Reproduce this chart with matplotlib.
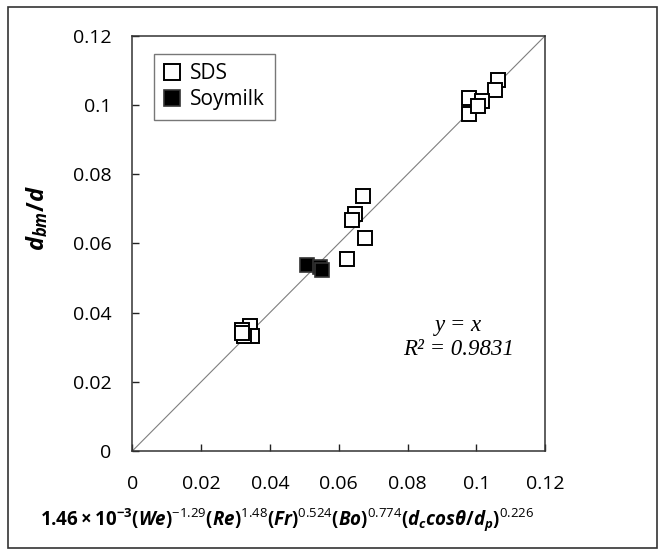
import matplotlib
matplotlib.use("Agg")
import matplotlib.pyplot as plt
from matplotlib.patches import Rectangle

plt.rcParams['font.family'] = ['Open Sans', 'DejaVu Sans']
plt.rcParams['mathtext.fontset'] = 'custom'
plt.rcParams['mathtext.rm'] = 'Open Sans:bold'
plt.rcParams['mathtext.bf'] = 'Open Sans:bold'
plt.rcParams['mathtext.it'] = 'Open Sans:bold:italic'
plt.rcParams['mathtext.sf'] = 'Open Sans'

# predicted (correlation) vs measured d_bm/d
sds_x = [0.1062, 0.1055, 0.0980, 0.0980, 0.1016, 0.1004,
         0.0670, 0.0646, 0.0639, 0.0675, 0.0623,
         0.0342, 0.0318, 0.0347, 0.0325, 0.0318]
sds_y = [0.1072, 0.1043, 0.1021, 0.0973, 0.1012, 0.0997,
         0.0738, 0.0684, 0.0667, 0.0615, 0.0554,
         0.0361, 0.0350, 0.0332, 0.0332, 0.0340]
soy_x = [0.0509, 0.0546, 0.0550]
soy_y = [0.0537, 0.0533, 0.0523]

ticks = [0, 0.02, 0.04, 0.06, 0.08, 0.1, 0.12]
tick_labels = ['0', '0.02', '0.04', '0.06', '0.08', '0.1', '0.12']

fig = plt.figure(figsize=(6.6, 5.5), dpi=100)
ax = fig.add_axes([0.2005, 0.18, 0.6255, 0.755])

ax.plot([0, 0.12], [0, 0.12], color='#7f7f7f', lw=0.8, zorder=1)
ax.plot(sds_x, sds_y, 's', ms=10.5, mfc='white', mec='black', mew=1.4,
        ls='none', label='SDS', zorder=3)
ax.plot(soy_x, soy_y, 's', ms=10.5, mfc='black', mec='#333333', mew=1.2,
        ls='none', label='Soymilk', zorder=3)

ax.set_xlim(0, 0.12)
ax.set_ylim(0, 0.12)
ax.set_xticks(ticks)
ax.set_xticklabels(tick_labels)
ax.set_yticks(ticks)
ax.set_yticklabels(tick_labels)
ax.tick_params(direction='in', length=5, width=1, labelsize=14,
               colors='#222222', labelcolor='black')
ax.tick_params(axis='y', pad=15)
ax.tick_params(axis='x', pad=17)
for s in ax.spines.values():
    s.set_linewidth(1.1)
    s.set_color('#333333')

ax.set_xlabel(r'$1.46\times10^{-3}(\mathit{We})^{\mathsf{-1.29}}(\mathit{Re})^{\mathsf{1.48}}'
              r'(\mathit{Fr})^{\mathsf{0.524}}(\mathit{Bo})^{\mathsf{0.774}}'
              r'(\mathit{d_c cos\theta/d_p})^{\mathsf{0.226}}$', fontsize=13.5)
ax.xaxis.set_label_coords(0.375, -0.135)
ax.set_ylabel(r'$\mathit{d_{bm}/d}$', fontsize=17)
ax.yaxis.set_label_coords(-0.2, 0.56)

ax.text(0.0949, 0.0364, 'y = x', family='Liberation Serif', style='italic',
        fontsize=16.5, ha='center', va='center')
ax.text(0.0949, 0.0292, 'R² = 0.9831', family='Liberation Serif',
        style='italic', fontsize=16.5, ha='center', va='center')

leg = ax.legend(loc='upper left', bbox_to_anchor=(0.052, 0.957), fontsize=15,
                frameon=True, fancybox=False, edgecolor='#555555',
                handlelength=0.8, handletextpad=0.5, borderpad=0.45,
                labelspacing=0.25, borderaxespad=0, markerscale=1.1)
leg.get_frame().set_linewidth(1.0)

fig.patches.append(Rectangle((0.012, 0.004), 0.983, 0.983, transform=fig.transFigure,
                             fill=False, edgecolor='#333333', lw=1.2))

fig.savefig('out.png', dpi=100)
